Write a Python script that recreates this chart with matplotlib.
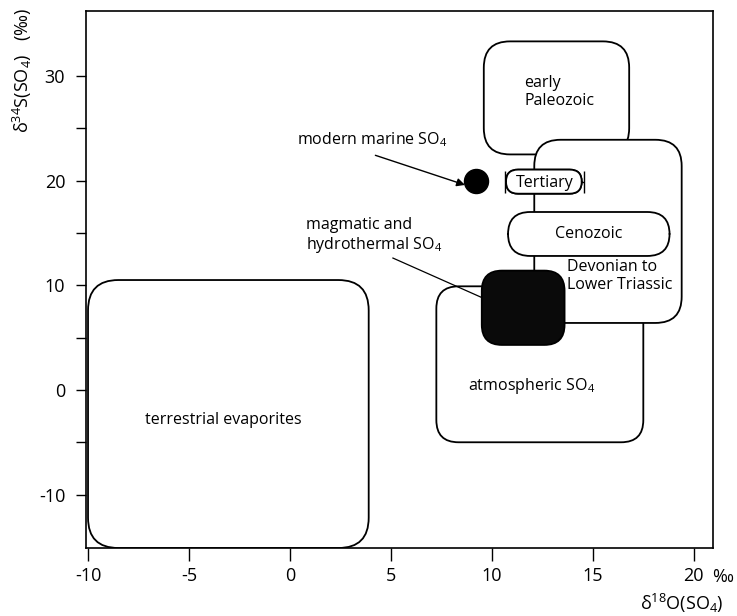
import matplotlib.pyplot as plt
from matplotlib.patches import FancyBboxPatch

plt.rcParams['font.family'] = ['Open Sans', 'DejaVu Sans']
plt.rcParams['mathtext.fontset'] = 'custom'
plt.rcParams['mathtext.rm'] = 'Open Sans'
plt.rcParams['mathtext.it'] = 'Open Sans:italic'
plt.rcParams['axes.unicode_minus'] = False

# fields: name, x0, x1, y0, y1 (per mil), corner radius (x units)
box_names = ['terrestrial', 'atmospheric', 'early_paleozoic', 'devonian', 'cenozoic', 'tertiary', 'magmatic']
box_x0 = [-10.0, 7.25, 9.6, 12.1, 10.8, 10.7, 9.5]
box_x1 = [3.9, 17.5, 16.8, 19.4, 18.8, 14.45, 13.6]
box_y0 = [-15.1, -5.0, 22.5, 6.4, 12.8, 18.75, 4.3]
box_y1 = [10.5, 9.9, 33.3, 23.9, 17.0, 21.05, 11.4]
box_round = [1.5, 1.1, 1.3, 1.3, 1.1, 0.6, 1.0]
box_fill = ['white', 'white', 'white', 'white', 'white', 'white', '#0a0a0a']

# modern marine sulfate
marine_x = [9.2]
marine_y = [20.0]

# tertiary range
tert_x = 12.6
tert_y = 19.9
tert_err = 1.95

labels = ['terrestrial evaporites', 'atmospheric SO$_4$', 'early\nPaleozoic',
          'Devonian to\nLower Triassic', 'Cenozoic', 'Tertiary']
label_x = [-3.3, 8.8, 11.6, 13.7, 14.8, 12.6]
label_y = [-2.9, 0.4, 28.5, 10.9, 14.9, 19.8]
label_ha = ['center', 'left', 'left', 'left', 'center', 'center']

fig = plt.figure(figsize=(7.37, 6.16), dpi=100)
ax = fig.add_axes([0.1167, 0.1104, 0.8507, 0.8717])
ax.set_xlim(-10.1, 20.95)
ax.set_ylim(-15.1, 36.2)

aspect = (0.8717 * 6.16 / 51.3) / (0.8507 * 7.37 / 31.05)
aspect = 1.0 / aspect

for i in range(len(box_names)):
    p = FancyBboxPatch((box_x0[i], box_y0[i]), box_x1[i] - box_x0[i], box_y1[i] - box_y0[i],
                       boxstyle='round,pad=0,rounding_size=%f' % box_round[i],
                       mutation_aspect=aspect, facecolor=box_fill[i], edgecolor='black',
                       linewidth=1.3, zorder=2 + i)
    ax.add_patch(p)

# tertiary error caps
ax.errorbar([tert_x], [tert_y], xerr=[tert_err], fmt='none', ecolor='black',
            elinewidth=1.0, capsize=8, capthick=1.0, zorder=6.5)
ax.add_patch(FancyBboxPatch((box_x0[5], box_y0[5]), box_x1[5] - box_x0[5], box_y1[5] - box_y0[5],
                            boxstyle='round,pad=0,rounding_size=0.6', mutation_aspect=aspect,
                            facecolor='white', edgecolor='black', linewidth=1.3, zorder=7.5))

ax.scatter(marine_x, marine_y, s=300, color='black', zorder=12)

for i in range(len(labels)):
    ax.text(label_x[i], label_y[i], labels[i], ha=label_ha[i], va='center',
            fontsize=11.5, zorder=15, linespacing=1.15)

ax.text(0.35, 23.9, 'modern marine SO$_4$', ha='left', va='center', fontsize=11.5)
ax.annotate('', xy=(8.8, 19.5), xytext=(4.1, 22.5),
            arrowprops=dict(arrowstyle='-|>', color='black', lw=1.0, mutation_scale=12))
ax.text(0.8, 14.7, 'magmatic and\nhydrothermal SO$_4$', ha='left', va='center',
        fontsize=11.5, linespacing=1.15)
ax.plot([5.1, 10.0], [12.6, 8.4], color='black', lw=0.9, zorder=3.5)

ax.set_xticks([-10, -5, 0, 5, 10, 15, 20])
ax.set_yticks([-10, 0, 10, 20, 30])
ax.set_yticks([-5, 5, 15, 25], minor=True)
ax.tick_params(axis='x', direction='out', length=9, width=1.0, labelsize=13, pad=5)
ax.tick_params(axis='y', which='both', direction='out', length=7, width=1.0, labelsize=13, pad=8)
for s in ax.spines.values():
    s.set_linewidth(1.2)

fig.text(0.98, 0.063, '‰', fontsize=13, ha='center', va='center')
fig.text(0.925, 0.02, 'δ$^{18}$O(SO$_4$)', fontsize=13, ha='center', va='center')
fig.text(0.03, 0.886, 'δ$^{34}$S(SO$_4$)   (‰)', fontsize=13, ha='center', va='center',
         rotation=90)

fig.savefig('out.png', dpi=100)
